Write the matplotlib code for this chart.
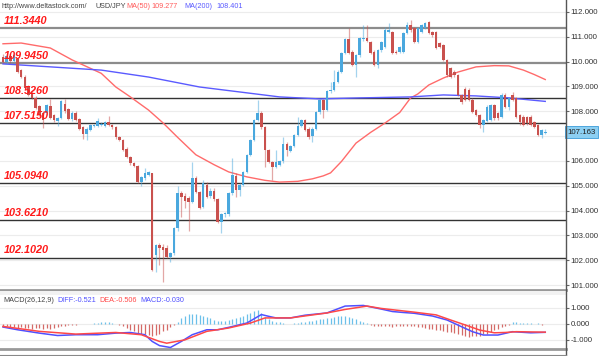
import matplotlib
matplotlib.use("Agg")
import matplotlib.pyplot as plt
from matplotlib.lines import Line2D
import numpy as np

plt.rcParams["font.family"] = ["Liberation Sans", "DejaVu Sans"]
plt.rcParams["axes.unicode_minus"] = False

# ---------------- data (USD/JPY daily) ----------------
opens = [
    110.20, 109.98, 110.22, 110.02, 110.10, 109.65, 109.40, 109.00, 108.75, 108.55,
    108.20, 107.95, 107.93, 108.20, 107.85, 107.60, 107.75, 108.30, 108.10, 107.70,
    107.95, 107.70, 107.35, 107.10, 107.25, 107.40, 107.40, 107.45, 107.40, 107.55,
    107.45, 107.35, 106.95, 106.85, 106.50, 106.15, 105.90, 105.80, 105.15, 105.30,
    105.45, 105.50, 102.20, 102.60, 102.55, 102.50, 102.15, 102.30, 103.30, 104.70,
    104.60, 104.50, 104.35, 105.30, 104.75, 104.15, 105.05, 104.60, 104.80, 104.45,
    103.55, 103.85, 103.85, 104.70, 105.40, 104.85, 105.05, 105.55, 106.25, 106.85,
    107.65, 107.95, 107.35, 106.45, 105.95, 105.75, 105.85, 105.98, 106.70, 106.40,
    106.60, 107.05, 107.40, 107.65, 107.30, 107.00, 107.30, 107.98, 108.46, 108.05,
    108.80, 108.86, 109.20, 109.60, 110.36, 110.90, 110.40, 109.87, 110.27, 110.90,
    110.95, 110.80, 110.40, 109.87, 110.47, 110.60, 111.20, 111.20, 110.40, 110.40,
    110.40, 111.14, 111.48, 111.35, 110.80, 111.20, 111.35, 111.60, 111.20, 111.20,
    110.74, 110.67, 110.07, 109.73, 109.60, 109.46, 108.66, 108.90, 108.86, 108.46,
    108.05, 107.85, 107.45, 107.60, 107.65, 108.25, 107.92, 107.78, 108.66, 108.19,
    108.66, 108.52, 107.85, 107.78, 107.78, 107.78, 107.55, 107.45, 107.05, 107.13,
]
highs = [
    110.32, 110.30, 110.30, 110.35, 110.20, 109.72, 109.45, 109.05, 108.80, 108.62,
    108.25, 108.00, 108.30, 108.50, 107.90, 107.78, 108.45, 108.48, 108.15, 108.00,
    108.02, 107.75, 107.40, 107.35, 107.50, 107.50, 107.72, 107.55, 107.60, 107.80,
    107.50, 107.40, 107.00, 106.90, 106.55, 106.20, 105.95, 105.85, 105.40, 105.70,
    105.60, 105.52, 102.65, 102.70, 102.65, 102.60, 102.35, 103.35, 105.00, 104.80,
    104.70, 104.60, 105.97, 105.40, 104.80, 105.23, 105.15, 104.90, 104.90, 104.50,
    103.90, 103.95, 104.75, 106.12, 105.50, 105.10, 105.60, 106.30, 106.90, 107.70,
    108.46, 108.00, 107.40, 106.50, 106.00, 106.45, 106.05, 106.98, 106.75, 106.65,
    107.10, 107.78, 107.70, 107.70, 107.35, 107.35, 108.02, 108.50, 108.50, 108.85,
    109.20, 109.66, 109.65, 110.40, 110.95, 111.34, 110.45, 110.32, 111.00, 111.48,
    111.48, 110.85, 110.45, 110.52, 110.85, 111.40, 111.55, 111.25, 110.45, 110.65,
    111.20, 111.60, 111.68, 111.40, 111.40, 111.52, 111.60, 111.65, 111.25, 111.25,
    110.80, 110.72, 110.12, 109.80, 109.65, 109.50, 108.70, 108.99, 108.92, 108.52,
    108.10, 107.90, 107.70, 108.25, 108.30, 108.30, 107.98, 108.73, 108.72, 108.58,
    108.79, 108.58, 107.90, 107.85, 107.82, 107.85, 107.60, 107.50, 107.30, 107.30,
]
lows = [
    109.95, 109.90, 109.95, 109.98, 109.55, 109.35, 108.90, 108.60, 108.50, 108.10,
    107.80, 107.33, 107.85, 107.70, 107.55, 107.40, 107.70, 107.95, 107.65, 107.62,
    107.60, 107.25, 106.90, 106.85, 107.20, 107.35, 107.35, 107.40, 107.35, 107.40,
    107.30, 106.90, 106.80, 106.40, 106.10, 105.85, 105.75, 105.10, 105.00, 105.25,
    105.40, 101.55, 101.53, 101.80, 101.14, 102.10, 101.95, 102.20, 103.20, 103.76,
    104.10, 103.20, 104.30, 104.70, 104.05, 104.10, 104.50, 104.50, 104.40, 103.50,
    103.10, 103.75, 103.80, 104.65, 104.56, 104.60, 105.00, 105.50, 106.20, 106.80,
    107.60, 107.30, 105.77, 105.90, 105.25, 105.70, 105.80, 105.90, 106.20, 106.35,
    106.55, 107.00, 107.35, 107.20, 106.90, 106.78, 107.25, 107.90, 107.72, 108.00,
    108.75, 108.80, 109.15, 109.55, 110.30, 110.30, 109.82, 109.40, 110.20, 110.85,
    110.80, 110.30, 109.82, 109.73, 110.40, 110.55, 111.15, 110.30, 110.30, 110.35,
    110.35, 111.10, 111.20, 110.75, 110.75, 111.15, 111.30, 111.10, 111.00, 110.50,
    110.55, 110.02, 109.40, 109.35, 109.40, 108.60, 108.30, 108.40, 108.40, 107.92,
    107.80, 107.32, 107.18, 107.55, 107.60, 107.65, 107.65, 107.72, 108.12, 108.05,
    108.40, 107.72, 107.45, 107.40, 107.45, 107.40, 107.32, 107.00, 106.91, 107.10,
]
closes = [
    110.00, 110.22, 110.02, 110.25, 109.60, 109.40, 108.95, 108.65, 108.55, 108.15,
    107.85, 107.65, 108.25, 107.75, 107.65, 107.75, 108.40, 108.02, 107.70, 107.95,
    107.65, 107.30, 107.10, 107.30, 107.45, 107.45, 107.60, 107.50, 107.55, 107.45,
    107.35, 106.95, 106.85, 106.45, 106.15, 105.90, 105.80, 105.15, 105.35, 105.50,
    105.55, 101.62, 102.60, 102.50, 102.42, 102.15, 102.30, 103.30, 104.70, 104.55,
    104.40, 104.35, 105.30, 104.75, 104.10, 105.10, 104.55, 104.80, 104.45, 103.55,
    103.85, 103.90, 104.70, 105.45, 104.85, 105.05, 105.55, 106.25, 106.85, 107.65,
    107.95, 107.35, 106.45, 105.95, 105.75, 105.95, 105.98, 106.70, 106.45, 106.60,
    107.05, 107.40, 107.65, 107.25, 106.98, 107.30, 107.98, 108.46, 108.05, 108.80,
    108.86, 109.20, 109.60, 110.36, 110.90, 110.36, 109.87, 110.27, 110.94, 110.95,
    110.85, 110.34, 109.87, 110.47, 110.80, 111.28, 111.28, 110.34, 110.34, 110.60,
    111.14, 111.48, 111.28, 110.80, 111.35, 111.48, 111.55, 111.14, 111.07, 110.54,
    110.60, 110.07, 109.46, 109.40, 109.46, 108.66, 108.39, 108.46, 108.46, 107.98,
    107.85, 107.45, 107.65, 108.19, 108.25, 107.72, 107.72, 108.66, 108.19, 108.52,
    108.46, 107.78, 107.58, 107.45, 107.52, 107.45, 107.38, 107.05, 107.25, 107.16,
]

ma50_idx = [0, 5, 13, 19, 27, 31, 35, 40, 44, 48, 53, 58, 62, 67, 72, 76, 81, 85, 88,
            90, 93, 97, 101, 105, 109, 112, 114, 117, 121, 125, 130, 135, 139, 143, 146, 149]
ma50_val = [110.72, 110.75, 110.55, 110.07, 109.53, 108.98, 108.58, 108.05, 107.53, 106.95,
            106.25, 105.85, 105.56, 105.36, 105.22, 105.15, 105.18, 105.28, 105.40,
            105.52, 105.98, 106.72, 107.15, 107.53, 107.95, 108.54, 108.70, 109.06,
            109.34, 109.58, 109.79, 109.84, 109.83, 109.66, 109.48, 109.28]

ma200_idx = [0, 13, 27, 40, 54, 65, 76, 87, 98, 112, 121, 130, 139, 149]
ma200_val = [109.91, 109.79, 109.66, 109.38, 108.98, 108.78, 108.58, 108.50, 108.54,
             108.58, 108.66, 108.62, 108.54, 108.40]

levels = [111.344, 109.945, 108.526, 107.515, 105.094, 103.621, 102.102]
level_colors = ["#8c8c8c", "#8c8c8c", "#333333", "#333333", "#333333", "#333333", "#333333"]
level_widths = [1.6, 1.6, 1.0, 1.0, 1.0, 1.0, 1.0]

price_ticks = [101, 102, 103, 104, 105, 106, 107, 108, 109, 110, 111, 112]
last_price = 107.163

diff_idx = [0, 4, 10, 15, 20, 26, 31, 35, 39, 41, 43, 46, 49, 52, 56, 59, 62, 67, 71, 73,
            75, 79, 83, 89, 94, 99, 101, 104, 107, 110, 113, 118, 122, 126, 129, 132,
            136, 140, 145, 149]
diff_val = [-0.19, -0.36, -0.57, -0.72, -0.67, -0.67, -0.57, -0.53, -0.67, -1.09, -1.35,
            -1.47, -1.09, -0.67, -0.36, -0.36, -0.21, 0.06, 0.59, 0.48, 0.38, 0.38, 0.55,
            0.69, 1.12, 1.16, 1.07, 0.93, 0.78, 0.72, 0.67, 0.50, 0.25, -0.17, -0.48,
            -0.69, -0.69, -0.48, -0.55, -0.52]
dea_idx = [0, 10, 20, 31, 38, 43, 45, 50, 56, 62, 68, 72, 79, 89, 94, 100, 104, 113, 119,
           123, 127, 131, 135, 138, 141, 149]
dea_val = [-0.15, -0.46, -0.63, -0.53, -0.67, -1.09, -1.20, -0.99, -0.46, -0.25, 0.06,
           0.38, 0.38, 0.69, 0.91, 1.12, 0.97, 0.74, 0.57, 0.25, -0.06, -0.38, -0.55,
           -0.53, -0.48, -0.51]
macd_hist = [
    -0.12, -0.15, -0.18, -0.20, -0.22, -0.20, -0.25, -0.28, -0.30, -0.25,
    -0.28, -0.30, -0.25, -0.30, -0.25, -0.20, -0.15, -0.10, -0.08, -0.05,
    -0.04, -0.03, -0.02, 0.02, 0.03, 0.05, 0.08, 0.10, 0.12, 0.10,
    0.06, 0.02, -0.08, -0.15, -0.25, -0.35, -0.45, -0.55, -0.60, -0.65,
    -0.70, -0.72, -0.68, -0.60, -0.45, -0.35, -0.20, -0.08, 0.15, 0.35,
    0.50, 0.60, 0.65, 0.60, 0.55, 0.50, 0.45, 0.35, 0.25, 0.20,
    0.18, 0.20, 0.25, 0.30, 0.38, 0.45, 0.50, 0.60, 0.70, 0.82,
    0.85, 0.70, 0.45, 0.30, 0.20, 0.15, 0.10, 0.05, 0.03, 0.02,
    0.05, 0.08, 0.12, 0.15, 0.18, 0.20, 0.25, 0.30, 0.32, 0.35,
    0.40, 0.45, 0.48, 0.50, 0.52, 0.45, 0.40, 0.30, 0.20, 0.10,
    0.05, -0.05, -0.10, -0.12, -0.15, -0.12, -0.15, -0.18, -0.15, -0.12,
    -0.10, -0.12, -0.15, -0.15, -0.18, -0.20, -0.25, -0.30, -0.32, -0.35,
    -0.38, -0.42, -0.48, -0.52, -0.58, -0.62, -0.68, -0.72, -0.80, -0.78,
    -0.75, -0.72, -0.65, -0.60, -0.50, -0.40, -0.30, -0.20, -0.12, -0.05,
    0.15, 0.10, 0.05, 0.08, 0.06, 0.05, -0.03, 0.04, -0.05, -0.03,
]

# ---------------- figure ----------------
W, H = 600, 356
fig = plt.figure(figsize=(6.0, 3.56), dpi=100)
ax = fig.add_axes([0, 1 - 290 / H, 566 / W, 290 / H])
axm = fig.add_axes([0, 1 - 349 / H, 566 / W, 58 / H])

UP = "#4aa8de"
DN = "#c9514e"
x = np.arange(len(closes))
o = np.array(opens)
c = np.array(closes)
up = c >= o
cols = np.where(up, UP, DN)

for a in (ax, axm):
    a.set_xlim(-0.82, 154.7)
    a.set_xticks([])
    a.yaxis.tick_right()
    a.tick_params(axis="y", direction="out", length=2.5, width=0.8, color="#666666",
                  labelsize=5.7, labelcolor="#333333", pad=0.8)
    for s in ("left", "top"):
        a.spines[s].set_visible(False)
    a.spines["right"].set_visible(False)
    a.spines["bottom"].set_color("#999999")
    a.spines["bottom"].set_linewidth(2)

# frame: right axis line over full height and thin bottom line
fig.add_artist(Line2D([566 / W, 566 / W], [0, 1], color="#555555", lw=1))
fig.add_artist(Line2D([0, 566 / W], [1 - 355 / H, 1 - 355 / H], color="#888888", lw=0.8))

# ---------------- price panel ----------------
ax.set_ylim(100.804, 112.483)
ax.set_yticks(price_ticks)
ax.set_yticklabels(["" if t == 107 else f"{t:.3f}" for t in price_ticks])
for t in price_ticks:
    ax.axhline(t, color="#ececec", lw=0.8, zorder=0)

for lv, lc, lw in zip(levels, level_colors, level_widths):
    ax.axhline(lv, color=lc, lw=lw, zorder=1)
    ax.text(0.2, lv + 0.1, f"{lv:.4f}", color="#ff1a1a", fontsize=7.8,
            fontweight="bold", fontstyle="italic", ha="left", va="bottom", zorder=6)

ax.plot(ma50_idx, ma50_val, color="#ff6b6b", lw=1, zorder=2)
ax.plot(ma200_idx, ma200_val, color="#5a5aff", lw=1, zorder=2)

ax.vlines(x, lows, highs, colors=cols, lw=0.9, alpha=0.5, zorder=3)
body = np.maximum(np.abs(c - o), 0.03)
ax.bar(x, body, bottom=np.minimum(o, c), width=0.7, color=cols, zorder=4, lw=0)

ax.text(1.003, last_price, f"{last_price:.3f}", transform=ax.get_yaxis_transform(),
        ha="left", va="center", fontsize=5.7, color="#222222", clip_on=False,
        bbox=dict(boxstyle="square,pad=0.3", fc="#8ccff2", ec="#3b9bd8", lw=0.6))

# ---------------- MACD panel ----------------
axm.set_ylim(-1.5625, 2.0625)
axm.set_yticks([1, 0, -1])
axm.set_yticklabels(["1.000", "0.000", "-1.000"])
for t in (1, 0, -1):
    axm.axhline(t, color="#ececec", lw=0.8, zorder=0)
axm.axhspan(1.8, 2.0625, color="#f2f2f2", lw=0, zorder=0)
hist = np.array(macd_hist)
axm.vlines(x, 0, hist, colors=np.where(hist >= 0, "#6cc0ea", "#d46a67"), lw=0.9, zorder=2)
axm.plot(diff_idx, diff_val, color="#5050ff", lw=1.1, zorder=3)
axm.plot(dea_idx, dea_val, color="#ff4848", lw=1.1, zorder=3)

# ---------------- header texts ----------------
def ftext(px, py, s, color, size=5.2):
    fig.text(px / W, 1 - py / H, s, color=color, fontsize=size, ha="left", va="center")

ftext(2, 6, "http://www.deltastock.com/", "#444444")
ftext(96, 6, "USD/JPY", "#444444")
ftext(126, 6, "MA(50)", "#ff5a5a")
ftext(151, 6, "109.277", "#ff5a5a")
ftext(184, 6, "MA(200)", "#5a5aff")
ftext(216, 6, "108.401", "#5a5aff")

ftext(3, 301, "MACD(26,12,9)", "#444444")
ftext(57, 301, "DIFF:-0.521", "#5050ff")
ftext(99, 301, "DEA:-0.506", "#ff4848")
ftext(140, 301, "MACD:-0.030", "#5050ff")

fig.savefig("out.png", dpi=100)
